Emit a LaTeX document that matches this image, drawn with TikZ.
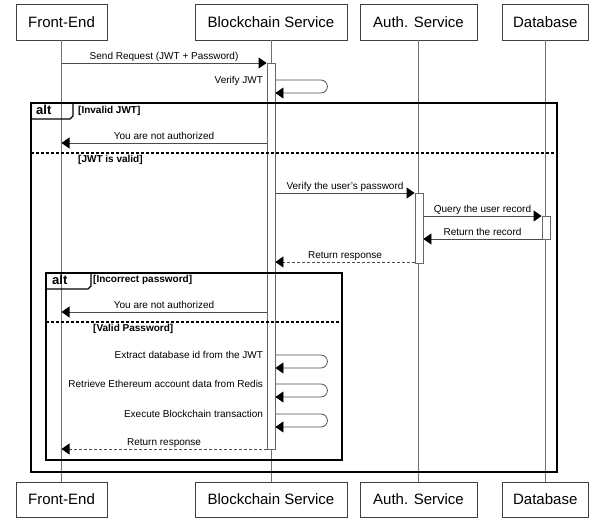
\documentclass[tikz,border=0pt]{standalone}
\usepackage{fontspec}
\setmainfont{Liberation Sans}
\usetikzlibrary{arrows.meta}
\begin{document}
\begin{tikzpicture}[x=1pt,y=-1pt,
  part/.style={draw=black!75, line width=0.8pt, inner sep=0pt, minimum height=36pt, font=\fontsize{15}{18}\selectfont},
  lifeline/.style={draw=black!55, line width=0.8pt},
  actbar/.style={draw=black!60, fill=white, line width=0.8pt, inner sep=0pt, minimum width=8pt},
  msg/.style={draw=black!70, line width=0.8pt, -{Triangle[length=8pt,width=11pt,black]}},
  ret/.style={msg, dash pattern=on 3pt off 2pt},
  lbl/.style={font=\fontsize{10}{12}\selectfont, inner sep=0pt},
  frame/.style={draw=black, line width=1.2pt},
  sepline/.style={draw=black, line width=1.2pt, dash pattern=on 3pt off 2pt},
  guard/.style={font=\bfseries\fontsize{10}{12}\selectfont, anchor=base west, inner sep=0pt},
  alttxt/.style={font=\bfseries\fontsize{13}{15}\selectfont, anchor=base west, inner sep=0pt},
]
\useasboundingbox (0,0) rectangle (589,518);

% participants
\node[part, minimum width=91pt]  (fe) at (61.5,22) {Front-End};
\node[part, minimum width=152pt] (bs) at (271,22) {Blockchain Service};
\node[part, minimum width=117pt] (as) at (418.5,22) {Auth. Service};
\node[part, minimum width=86.5pt] (db) at (545.25,22) {Database};
\node[part, minimum width=91pt, minimum height=35pt]  (feB) at (61.5,499.5) {Front-End};
\node[part, minimum width=152pt, minimum height=35pt] (bsB) at (271,499.5) {Blockchain Service};
\node[part, minimum width=117pt, minimum height=35pt] (asB) at (418.5,499.5) {Auth. Service};
\node[part, minimum width=86.5pt, minimum height=35pt] (dbB) at (545.25,499.5) {Database};

% lifelines
\draw[lifeline] (fe) -- (feB);
\draw[lifeline] (bs) -- (bsB);
\draw[lifeline] (as) -- (asB);
\draw[lifeline] (db) -- (dbB);

% activation bars
\node[actbar, minimum height=386pt] (bsact) at (271,256) {};
\node[actbar, minimum height=70pt]  (asact) at (419,228) {};
\node[actbar, minimum height=23pt]  (dbact) at (546,227.5) {};

% frames
\draw[frame] (31,103) rectangle (557,472);
\draw[frame] (31,119) -- (70,119) -- (73,116) -- (73,103);
\node[alttxt] (alt1) at (36,115) {alt};
\node[guard] (g1) at (78,114) {[Invalid JWT]};
\draw[sepline] (31,153) -- (557,153);
\node[guard] (g2) at (78,163) {[JWT is valid]};

\draw[frame] (46,273) rectangle (342,460);
\draw[frame] (46,289) -- (88,289) -- (91,286) -- (91,273);
\node[alttxt] (alt2) at (52,284.5) {alt};
\node[guard] (g3) at (93,283) {[Incorrect password]};
\draw[sepline] (46,322) -- (342,322);
\node[guard] (g4) at (93,332) {[Valid Password]};

% y levels
\coordinate (y1) at (0,63);
\coordinate (y2) at (0,80);
\coordinate (y2r) at (0,93);
\coordinate (y3) at (0,143);
\coordinate (y4) at (0,193);
\coordinate (y5) at (0,216);
\coordinate (y6) at (0,239);
\coordinate (y7) at (0,262);
\coordinate (y8) at (0,312);
\coordinate (y9) at (0,355);
\coordinate (y9r) at (0,368);
\coordinate (y10) at (0,384);
\coordinate (y10r) at (0,397);
\coordinate (y11) at (0,414);
\coordinate (y11r) at (0,427);
\coordinate (y12) at (0,449);

% messages
\draw[msg] (fe |- y1) -- node[lbl, anchor=base, yshift=3pt] {Send Request (JWT + Password)} (bsact.west |- y1);
\draw[msg, rounded corners=6.5pt] (bsact.east |- y2) node[lbl, anchor=base east, xshift=-12pt, yshift=-3.5pt] {Verify JWT} -- ++(52,0) -- ++(0,13) -- (bsact.east |- y2r);
\draw[msg] (bsact.west |- y3) -- node[lbl, anchor=base, yshift=3pt] {You are not authorized} (fe |- y3);
\draw[msg] (bsact.east |- y4) -- node[lbl, anchor=base, yshift=3pt] {Verify the user{\char39}s password} (asact.west |- y4);
\draw[msg] (asact.east |- y5) -- node[lbl, anchor=base, yshift=3pt] {Query the user record} (dbact.west |- y5);
\draw[msg] (dbact.west |- y6) -- node[lbl, anchor=base, yshift=3pt] {Return the record} (asact.east |- y6);
\draw[ret] (asact.west |- y7) -- node[lbl, anchor=base, yshift=3pt] {Return response} (bsact.east |- y7);
\draw[msg] (bsact.west |- y8) -- node[lbl, anchor=base, yshift=3pt] {You are not authorized} (fe |- y8);
\draw[msg, rounded corners=6.5pt] (bsact.east |- y9) node[lbl, anchor=base east, xshift=-12pt, yshift=-3.5pt] {Extract database id from the JWT} -- ++(52,0) -- ++(0,13) -- (bsact.east |- y9r);
\draw[msg, rounded corners=6.5pt] (bsact.east |- y10) node[lbl, anchor=base east, xshift=-12pt, yshift=-3.5pt] {Retrieve Ethereum account data from Redis} -- ++(52,0) -- ++(0,13) -- (bsact.east |- y10r);
\draw[msg, rounded corners=6.5pt] (bsact.east |- y11) node[lbl, anchor=base east, xshift=-12pt, yshift=-3.5pt] {Execute Blockchain transaction} -- ++(52,0) -- ++(0,13) -- (bsact.east |- y11r);
\draw[ret] (bsact.west |- y12) -- node[lbl, anchor=base, yshift=3pt] {Return response} (fe |- y12);
\end{tikzpicture}
\end{document}
